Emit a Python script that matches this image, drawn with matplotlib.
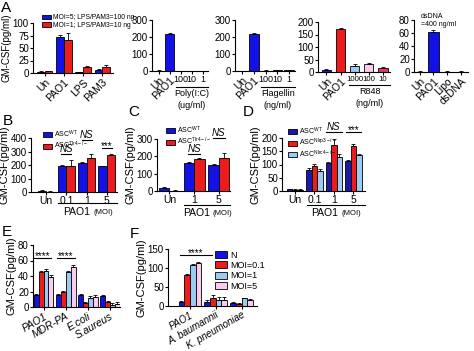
import numpy as np
import matplotlib
matplotlib.use("Agg")
import matplotlib.pyplot as plt
from matplotlib import transforms
from matplotlib.patches import Patch
from matplotlib import font_manager

W, H = 474, 351

# ---- data ----
a1_cats = ["Un", "PAO1", "LPS", "PAM3"]
a1_hi = [3, 73, 2, 6]
a1_hi_err = [1, 3, 1, 2]
a1_lo = [4, 67, 12, 12]
a1_lo_err = [1, 13, 2, 4]

a2_cats = ["Un", "PAO1", "100", "10", "1"]
a2_vals = [2, 220, 1, 1, 1]
a2_err = [1, 5, 0.5, 0.5, 0.5]

a3_cats = ["Un", "PAO1", "100", "10", "1"]
a3_vals = [1, 220, 2, 5, 5]
a3_err = [0.5, 5, 1, 1, 1]

a4_cats = ["Un", "PAO1", "1000", "100", "10"]
a4_vals = [10, 172, 25, 32, 17]
a4_err = [2, 5, 6, 4, 2]

a5_cats = ["Un", "PAO1", "Lipo", "dsDNA"]
a5_vals = [0.5, 62, 0.5, 0.5]
a5_err = [0.3, 3, 0.3, 0.3]

b_cats = ["Un", "0.1", "1", "5"]
b_wt = [10, 195, 215, 190]
b_wt_err = [3, 5, 5, 5]
b_ko = [3, 195, 250, 275]
b_ko_err = [1, 45, 30, 8]

c_cats = ["Un", "1", "5"]
c_wt = [20, 160, 150]
c_wt_err = [3, 8, 5]
c_ko = [2, 185, 190]
c_ko_err = [1, 8, 30]

d_cats = ["Un", "0.1", "1", "5"]
d_wt = [8, 80, 105, 115]
d_nlrp3 = [5, 95, 175, 170]
d_nlrc4 = [5, 75, 130, 135]
d_wt_err = [1, 8, 5, 3]
d_nlrp3_err = [1, 8, 20, 8]
d_nlrc4_err = [1, 8, 8, 5]

e_cats = ["PAO1", "MDR-PA", "E.coli", "S.aureus"]
e_n = [15, 15, 15, 14]
e_m01 = [45, 19, 5, 6]
e_m1 = [47, 45, 12, 3]
e_m5 = [39, 52, 13, 4]
e_err = [2, 2, 2, 2]

f_cats = ["PAO1", "A. baumannii", "K. pneumoniae"]
f_n = [10, 10, 9]
f_m01 = [82, 22, 5]
f_m1 = [108, 17, 20]
f_m5 = [113, 17, 17]
f_err = [2, 6, 2]

BLUE = "#1212e6"
NAVY = "#1a1aa6"
RED = "#ec1c1c"
LBLUE = "#9ccaf0"
LPINK = "#f7ccee"
CRIMSON = "#e5336b"

names = {f.name for f in font_manager.fontManager.ttflist}
fams = [f for f in ["Liberation Sans Narrow", "Liberation Sans"] if f in names] + ["DejaVu Sans"]
REG = [f for f in ["Liberation Sans"] if f in names] + ["DejaVu Sans"]
plt.rcParams["font.family"] = fams
plt.rcParams["mathtext.fontset"] = "custom"
plt.rcParams["mathtext.rm"] = fams[0]

fig = plt.figure(figsize=(4.74, 3.51), dpi=100)


def fy(y):
    return 1 - y / H


def add_ax(x0, x1, ytop, ybot, ylim, yticks, ylab=8):
    ax = fig.add_axes([x0 / W, fy(ybot), (x1 - x0) / W, (ybot - ytop) / H])
    ax.spines[["top", "right"]].set_visible(False)
    ax.spines[["left", "bottom"]].set_linewidth(0.8)
    ax.tick_params(labelsize=7, length=2, width=0.8, pad=1)
    ax.set_ylim(*ylim)
    ax.set_yticks(yticks)
    ax.set_ylabel("GM-CSF(pg/ml)", fontsize=ylab, labelpad=1, family=REG)
    return ax


def bars(ax, x, vals, errs, color, w):
    ax.bar(x, vals, w, color=color, edgecolor="black", linewidth=0.6, zorder=2)
    ax.errorbar(x, vals, yerr=[np.zeros(len(vals)), errs], fmt="none",
                ecolor="black", elinewidth=0.6, capsize=1.2, capthick=0.6, zorder=3)


def grouped(ax, cats, series, errs, colors, w):
    n = len(series)
    x = np.arange(len(cats))
    for i, (vals, e, c) in enumerate(zip(series, errs, colors)):
        bars(ax, x + (i - (n - 1) / 2) * w, vals, e, c, w)
    ax.set_xticks(x)


def sig(ax, x0, x1, y, text, ty):
    tr = transforms.blended_transform_factory(ax.transData, fig.transFigure)
    ax.plot([x0, x1], [fy(y), fy(y)], color="black", lw=0.8, transform=tr, clip_on=False)
    ax.text((x0 + x1) / 2, fy(ty), text, transform=tr, ha="center", va="center",
            fontsize=7, style="italic" if text == "NS" else "normal")


def under(ax, x0, x1, y, lines, ty, size=6.5):
    tr = transforms.blended_transform_factory(ax.transData, fig.transFigure)
    ax.plot([x0, x1], [fy(y), fy(y)], color="black", lw=0.8, transform=tr, clip_on=False)
    for t, yy in zip(lines, ty):
        ax.text((x0 + x1) / 2, fy(yy), t, transform=tr, ha="center", va="center", fontsize=size)


def moi(ax, x0, x1, y, ty):
    tr = transforms.blended_transform_factory(ax.transData, fig.transFigure)
    ax.plot([x0, x1], [fy(y), fy(y)], color="black", lw=0.8, transform=tr, clip_on=False)
    xc = (x0 + x1) / 2
    ax.annotate("PAO1", (xc, fy(ty)), xycoords=tr, xytext=(2, 0), textcoords="offset points",
                ha="right", va="center", fontsize=7.5)
    ax.annotate("(MOI)", (xc, fy(ty + 0.5)), xycoords=tr, xytext=(4, 0), textcoords="offset points",
                ha="left", va="center", fontsize=5.5)


def small_legend(ax, colors, labels, x, y, size=4.8, sp=0.1):
    ax.legend(handles=[Patch(fc=c, ec="black", lw=0.6) for c in colors], labels=labels,
              loc="upper left", bbox_to_anchor=(x / W, fy(y)), bbox_transform=fig.transFigure,
              frameon=False, fontsize=size, handlelength=1.2, handleheight=0.7,
              labelspacing=sp, borderpad=0, handletextpad=0.3)


def rot(ax, n, angle=45, size=7.5):
    for t in ax.get_xticklabels()[:n]:
        t.set_rotation(angle)
        t.set_ha("right")
        t.set_rotation_mode("anchor")
        t.set_fontsize(size)


def small_ticks(ax, idx, size=6):
    for i in idx:
        ax.get_xticklabels()[i].set_fontsize(size)


# ---- A1 ----
ax = add_ax(33, 113, 23, 73, (0, 100), [0, 25, 50, 75, 100], ylab=7)
grouped(ax, a1_cats, [a1_hi, a1_lo], [a1_hi_err, a1_lo_err], [BLUE, RED], 0.4)
ax.set_xlim(-0.6, 3.55)
ax.set_xticklabels(a1_cats)
rot(ax, 4)
small_legend(ax, [BLUE, RED], ["MOI=5; LPS/PAM3=100 ng", "MOI=1; LPS/PAM3=10 ng"], 39, 11, size=4.9, sp=0.08)

# ---- A2 / A3 ----
for x0, x1, cats, vals, errs, lab in [(152, 208, a2_cats, a2_vals, a2_err, ["Poly(I:C)", "(ug/ml)"]),
                                      (235, 295, a3_cats, a3_vals, a3_err, ["Flagellin", "(ng/ml)"])]:
    ax = add_ax(x0, x1, 20, 71, (0, 300), [0, 100, 200, 300])
    ax.set_ylabel("")
    x = np.arange(len(cats))
    bars(ax, x, vals, errs, BLUE, 0.8)
    ax.set_xlim(-0.6, 4.5)
    ax.set_xticks(x)
    ax.set_xticklabels(cats)
    rot(ax, 2)
    small_ticks(ax, [2, 3, 4], 6.5)
    under(ax, 1.6, 4.5, 87, lab, [94, 106])

# ---- A4 ----
ax = add_ax(318, 390, 22, 72, (0, 200), [0, 50, 100, 150, 200])
ax.set_ylabel("")
x = np.arange(len(a4_cats))
bars(ax, x, a4_vals, a4_err, [BLUE, RED, LBLUE, LPINK, CRIMSON], 0.65)
ax.set_xlim(-0.6, 4.5)
ax.set_xticks(x)
ax.set_xticklabels(a4_cats)
rot(ax, 2)
small_ticks(ax, [2, 3, 4], 5.6)
under(ax, 1.6, 4.5, 85, ["R848", "(ng/ml)"], [92, 104])

# ---- A5 ----
ax = add_ax(414, 468, 20, 72, (0, 80), [0, 20, 40, 60, 80])
ax.set_ylabel("")
x = np.arange(len(a5_cats))
bars(ax, x, a5_vals, a5_err, BLUE, 0.8)
ax.set_xlim(-0.4, 3.5)
ax.set_xticks(x)
ax.set_xticklabels(a5_cats)
rot(ax, 4)
fig.text(421 / W, fy(16), "dsDNA", fontsize=5, va="center")
fig.text(421 / W, fy(24), "=400 ng/ml", fontsize=5, va="center")

# ---- B ----
ax = add_ax(31, 117, 138, 192, (0, 400), [0, 100, 200, 300, 400])
grouped(ax, b_cats, [b_wt, b_ko], [b_wt_err, b_ko_err], [BLUE, RED], 0.42)
ax.set_xlim(-0.75, 3.5)
ax.set_xticklabels(b_cats, fontsize=7.5)
sig(ax, 0.75, 1.25, 154, "NS", 149.5)
sig(ax, 1.75, 2.25, 140, "NS", 134.5)
sig(ax, 2.75, 3.25, 148, "***", 146)
moi(ax, 0.6, 3.5, 203, 212)
small_legend(ax, [BLUE, RED], [r"ASC$^{\mathrm{WT}}$", r"ASC$^{\mathrm{Tlr4-/-}}$"], 40, 125, size=5, sp=0.0)

# ---- C ----
ax = add_ax(157, 230, 139, 191, (0, 300), [0, 100, 200, 300])
grouped(ax, c_cats, [c_wt, c_ko], [c_wt_err, c_ko_err], [BLUE, RED], 0.42)
ax.set_xlim(-0.5, 2.45)
ax.set_xticklabels(c_cats, fontsize=7.5)
sig(ax, 0.75, 1.25, 154, "NS", 149.5)
sig(ax, 1.75, 2.25, 138, "NS", 133)
moi(ax, 0.6, 2.45, 205, 213)
small_legend(ax, [BLUE, RED], [r"ASC$^{\mathrm{WT}}$", r"ASC$^{\mathrm{Tlr4-/-}}$"], 163, 121, size=5, sp=0.0)

# ---- D ----
ax = add_ax(282, 365, 138, 191, (0, 200), [0, 50, 100, 150, 200])
grouped(ax, d_cats, [d_wt, d_nlrp3, d_nlrc4], [d_wt_err, d_nlrp3_err, d_nlrc4_err],
        [NAVY, RED, LBLUE], 0.28)
ax.set_xlim(-0.67, 3.6)
ax.set_xticklabels(d_cats, fontsize=7.5)
sig(ax, 1.6, 2.4, 132, "NS", 127)
sig(ax, 2.6, 3.4, 132, "***", 130)
moi(ax, 0.6, 3.6, 205, 213)
small_legend(ax, [NAVY, RED, LBLUE],
             [r"ASC$^{\mathrm{WT}}$", r"ASC$^{\mathrm{Nlrp3-/-}}$", r"ASC$^{\mathrm{Nlrc4-/-}}$"],
             285, 122, size=5, sp=0.02)

# ---- E ----
ax = add_ax(33, 120, 245, 307, (0, 80), [0, 20, 40, 60, 80])
grouped(ax, e_cats, [e_n, e_m01, e_m1, e_m5], [e_err] * 4, [BLUE, RED, LBLUE, LPINK], 0.22)
ax.set_xlim(-0.48, 3.45)
ax.set_xticklabels(e_cats, style="italic")
rot(ax, 4, 30)
sig(ax, -0.45, 0.35, 258, "****", 256)
sig(ax, 0.6, 1.4, 258, "****", 256)

# ---- F ----
ax = add_ax(168, 257, 249, 306, (0, 150), [0, 50, 100, 150])
grouped(ax, f_cats, [f_n, f_m01, f_m1, f_m5], [f_err] * 4, [BLUE, RED, LBLUE, LPINK], 0.22)
ax.set_xlim(-0.85, 2.6)
ax.set_xticklabels(f_cats, style="italic")
rot(ax, 3, 30, size=7)
sig(ax, -0.4, 0.85, 255, "****", 253)
ax.legend(handles=[Patch(fc=c, ec="black", lw=0.6) for c in [BLUE, RED, LBLUE, LPINK]],
          labels=["N", "MOI=0.1", "MOI=1", "MOI=5"],
          loc="upper left", bbox_to_anchor=(210 / W, fy(246)), bbox_transform=fig.transFigure,
          frameon=False, fontsize=6.5, handlelength=1.4, handleheight=0.8,
          labelspacing=0.15, borderpad=0, handletextpad=0.3)

# panel letters
for t, x, y in [("A", 1, 8), ("B", 3, 121), ("C", 128, 112), ("D", 243, 112),
                ("E", 2, 232), ("F", 130, 234)]:
    fig.text(x / W, fy(y), t, fontsize=11, va="center")

fig.savefig("out.png", dpi=100)
